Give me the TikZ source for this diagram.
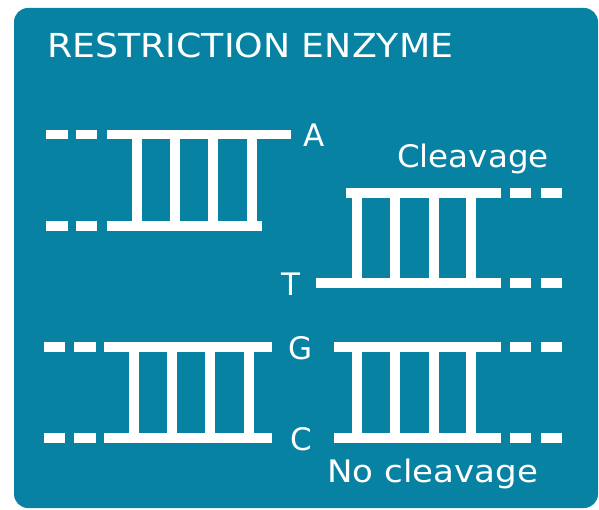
\documentclass[tikz,border=0pt]{standalone}
\usepackage{fontspec}
\setmainfont{DejaVu Sans}
\definecolor{panel}{HTML}{0882A3}
\begin{document}
\begin{tikzpicture}[x=1pt,y=-1pt,
  strand/.style={white,line width=9.5pt},
  rung/.style={white,line width=10pt},
  lbl/.style={white,inner sep=0pt,font=\fontsize{31}{36}\selectfont},
  ttl/.style={white,inner sep=0pt,font=\fontsize{33}{40}\selectfont}]
\useasboundingbox (0,0) rectangle (599,510);
% panel
\fill[panel,rounded corners=14pt] (14,8) rectangle (598,508);

% left upper fragment (ends at A / blunt lower strand)
\draw[strand] (46,134.5) -- (68,134.5) (76,134.5) -- (97,134.5) (107,134.5) -- (291,134.5);
\draw[strand] (46,226) -- (68,226) (76,226) -- (97,226) (107,226) -- (262,226);
\foreach \x in {137,175,213,252} \draw[rung] (\x,134.5) -- (\x,226);

% right upper fragment (starts at T)
\draw[strand] (346,193) -- (501,193) (510,193) -- (531,193) (541,193) -- (562,193);
\draw[strand] (316,283) -- (501,283) (510,283) -- (531,283) (541,283) -- (562,283);
\foreach \x in {357,395,434,471} \draw[rung] (\x,193) -- (\x,283);

% left lower duplex
\draw[strand] (44,347) -- (65,347) (74,347) -- (96,347) (104,347) -- (272,347);
\draw[strand] (44,438) -- (65,438) (74,438) -- (96,438) (104,438) -- (272,438);
\foreach \x in {134,172,210,249} \draw[rung] (\x,347) -- (\x,438);

% right lower duplex
\draw[strand] (334,347) -- (501,347) (510,347) -- (531,347) (541,347) -- (562,347);
\draw[strand] (334,438) -- (501,438) (510,438) -- (531,438) (541,438) -- (562,438);
\foreach \x in {357,395,434,471} \draw[rung] (\x,347) -- (\x,438);

% labels
\node[ttl,anchor=base west] (title) at (47,57.5) {\scalebox{1.1}[1]{RESTRICTION ENZYME}};
\node[lbl,anchor=base] (baseA) at (314,147) {A};
\node[lbl,anchor=base] (baseT) at (290.5,296) {T};
\node[lbl,anchor=base] (baseG) at (300.5,359) {G};
\node[lbl,anchor=base] (baseC) at (301,450) {C};
\node[lbl,anchor=base west] (cut) at (397,168) {\scalebox{1.05}[1]{Cleavage}};
\node[lbl,anchor=base west] (nocut) at (327,482) {\scalebox{1.1}[1]{No cleavage}};
\end{tikzpicture}
\end{document}
